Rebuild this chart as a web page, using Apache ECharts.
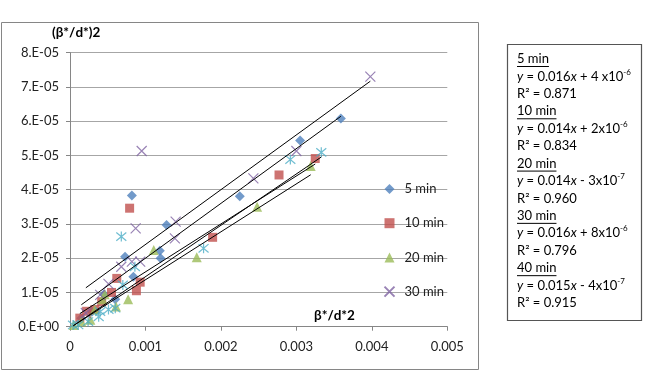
<!DOCTYPE html>
<html>
<head>
<meta charset="utf-8">
<title>β*/d* plot</title>
<script src="https://cdn.jsdelivr.net/npm/echarts@6/dist/echarts.min.js"></script>
<style>
  html, body { margin: 0; padding: 0; background: #fff; }
  #chart { width: 647px; height: 374px; }
</style>
</head>
<body>
<div id="chart"></div>
<script>
// measured points [x, y] per series
const seriesNames = ['5 min', '10 min', '20 min', '30 min', '40 min'];
const pts5 = [[0.00359, 6.08e-5], [0.00305, 5.44e-5], [0.00225, 3.81e-5], [0.00082, 3.83e-5], [0.00128, 2.97e-5],
  [0.00119, 2.22e-5], [0.0012, 2.0e-5], [0.00073, 2.04e-5], [0.00084, 1.46e-5], [0.0006, 0.8e-5],
  [0.00045, 0.95e-5], [0.00029, 0.44e-5], [0.00015, 0.25e-5]];
const pts10 = [[0.00325, 4.91e-5], [0.00277, 4.43e-5], [0.00189, 2.61e-5], [0.00079, 3.46e-5], [0.00062, 1.41e-5],
  [0.00088, 1.05e-5], [0.00093, 1.3e-5], [0.00055, 1.0e-5], [0.00042, 0.73e-5], [0.00033, 0.5e-5],
  [0.00022, 0.45e-5], [0.00013, 0.25e-5]];
const pts20 = [[0.00319, 4.69e-5], [0.00248, 3.5e-5], [0.00168, 2.03e-5], [0.00111, 2.24e-5], [0.00077, 0.8e-5],
  [0.00061, 0.59e-5], [0.00046, 0.95e-5], [0.00043, 0.8e-5], [0.00033, 0.5e-5], [0.00027, 0.2e-5],
  [0.00015, 0.15e-5], [0.00005, 0.05e-5]];
const pts30 = [[0.00398, 7.3e-5], [0.00095, 5.13e-5], [0.003, 5.13e-5], [0.00243, 4.33e-5], [0.0014, 3.07e-5],
  [0.00087, 2.87e-5], [0.00139, 2.58e-5], [0.00082, 1.9e-5], [0.00093, 1.9e-5], [0.00068, 1.75e-5],
  [0.00051, 1.25e-5], [0.0004, 0.93e-5], [0.00021, 0.4e-5]];
const pts40 = [[0.00333, 5.09e-5], [0.00292, 4.88e-5], [0.00177, 2.29e-5], [0.00068, 2.63e-5], [0.00086, 1.75e-5],
  [0.0007, 1.22e-5], [0.0006, 0.54e-5], [0.00051, 0.5e-5], [0.0004, 0.44e-5], [0.00038, 0.29e-5],
  [0.00024, 0.15e-5], [0.00011, 0.05e-5], [0.00004, 0.05e-5]];

// linear trendlines as given in the text box
const slopes = [0.016, 0.014, 0.014, 0.016, 0.015];
const intercepts = [4e-6, 2e-6, -3e-7, 8e-6, -4e-7];
const r2Values = ['0.871', '0.834', '0.960', '0.796', '0.915'];
const eqLines = [
  '{i|y} = 0.016{i|x} + 4 x10{s|-6}',
  '{i|y} = 0.014{i|x} + 2x10{s|-6}',
  '{i|y} = 0.014{i|x} - 3x10{s|-7}',
  '{i|y} = 0.016{i|x} + 8x10{s|-6}',
  '{i|y} = 0.015{i|x} - 4x10{s|-7}'
];

const xTickLabels = ['0', '0.001', '0.002', '0.003', '0.004', '0.005'];
const yTickLabels = ['0.E+00', '1.E-05', '2.E-05', '3.E-05', '4.E-05', '5.E-05', '6.E-05', '7.E-05', '8.E-05'];

const allPts = [pts5, pts10, pts20, pts30, pts40];
const colors = ['#4F81BD', '#C0504D', '#9BBB59', '#8064A2', '#4BACC6'];
const crossPath = 'path://M0,0L10,10M10,0L0,10';
const starPath = 'path://M0,0L10,10M10,0L0,10M5,-1L5,11';
const symbols = ['diamond', 'rect', 'triangle', crossPath, starPath];
const sizes = [10, 9, 10, 10, 10];

const FONT = 'Lato, "Open Sans", sans-serif';
const BOX_FS = 13;

const chart = echarts.init(document.getElementById('chart'));

const scatterSeries = allPts.map((pts, i) => {
  const stroked = i >= 3;
  return {
    name: seriesNames[i],
    type: 'scatter',
    data: pts,
    symbol: symbols[i],
    symbolSize: sizes[i],
    z: 2,
    itemStyle: stroked
      ? { color: 'none', borderColor: colors[i], borderWidth: 1.2 }
      : { color: colors[i] }
  };
});

const trendSeries = allPts.map((pts, i) => {
  const xs = pts.map(p => p[0]);
  const x1 = Math.min(...xs), x2 = Math.max(...xs);
  return {
    name: seriesNames[i] + ' trend',
    type: 'line',
    data: [[x1, slopes[i] * x1 + intercepts[i]], [x2, slopes[i] * x2 + intercepts[i]]],
    symbol: 'none',
    silent: true,
    z: 3,
    lineStyle: { color: '#000', width: 1 }
  };
});

// text box on the right
const ctx = document.createElement('canvas').getContext('2d');
ctx.font = BOX_FS + 'px ' + FONT;
const boxGraphics = [];
const boxLeft = 517, boxTop = 59, step = 17.43;
seriesNames.forEach((name, i) => {
  const yH = boxTop + step * 3 * i;
  boxGraphics.push({
    type: 'text', x: boxLeft, y: yH, silent: true,
    style: { text: name, fill: '#000', fontSize: BOX_FS, fontFamily: FONT, verticalAlign: 'middle' }
  });
  boxGraphics.push({
    type: 'line', silent: true,
    shape: { x1: boxLeft, y1: yH + 7.5, x2: boxLeft + ctx.measureText(name).width, y2: yH + 7.5 },
    style: { stroke: '#000', lineWidth: 1 }
  });
  boxGraphics.push({
    type: 'text', x: boxLeft, y: yH + step, silent: true,
    style: {
      text: eqLines[i], fill: '#000', fontSize: BOX_FS, fontFamily: FONT, verticalAlign: 'middle',
      lineHeight: 17,
      rich: {
        i: { fontStyle: 'italic', fontSize: BOX_FS, fontFamily: FONT, lineHeight: 17 },
        s: { fontSize: 8, fontFamily: FONT, lineHeight: 10, verticalAlign: 'top' }
      }
    }
  });
  boxGraphics.push({
    type: 'text', x: boxLeft, y: yH + step * 2, silent: true,
    style: { text: 'R² = ' + r2Values[i], fill: '#000', fontSize: BOX_FS, fontFamily: FONT, verticalAlign: 'middle' }
  });
});

const option = {
  animation: false,
  textStyle: { fontFamily: FONT },
  grid: { left: 70, top: 52.7, width: 377.3, height: 274 },
  xAxis: {
    type: 'value', min: 0, max: 0.005, interval: 0.001,
    axisLine: { show: true, lineStyle: { color: '#868686' } },
    axisTick: { show: true, length: 4, lineStyle: { color: '#868686' } },
    splitLine: { show: false },
    axisLabel: {
      margin: 14, fontSize: 13, color: '#222', fontFamily: FONT,
      formatter: v => xTickLabels[Math.round(v / 0.001)]
    }
  },
  yAxis: {
    type: 'value', min: 0, max: 8e-5, interval: 1e-5,
    axisLine: { show: true, lineStyle: { color: '#868686' } },
    axisTick: { show: true, length: 4, lineStyle: { color: '#868686' } },
    splitLine: { show: true, lineStyle: { color: '#A6A6A6', width: 1 } },
    axisLabel: {
      margin: 11, fontSize: 13, color: '#222', fontFamily: FONT,
      formatter: v => yTickLabels[Math.round(v / 1e-5)]
    }
  },
  legend: {
    data: seriesNames.slice(0, 4),
    orient: 'vertical',
    left: 377, top: 176,
    itemWidth: 10, itemHeight: 10, itemGap: 18.2,
    textStyle: { fontSize: 13, color: '#222', fontFamily: FONT, lineHeight: 16, padding: [0, 0, 0, 5] }
  },
  graphic: [
    {
      type: 'rect', silent: true, z: -1,
      shape: { x: 1.5, y: 22.5, width: 477, height: 347 },
      style: { fill: 'none', stroke: '#868686', lineWidth: 1 }
    },
    {
      type: 'rect', silent: true,
      shape: { x: 507.5, y: 44.5, width: 134, height: 276 },
      style: { fill: '#fff', stroke: '#555', lineWidth: 1.2 }
    },
    {
      type: 'text', x: 52, y: 33, silent: true,
      style: { text: '(β*/d*)2', fill: '#000', fontSize: 13.5, fontWeight: 'bold', fontFamily: FONT, verticalAlign: 'middle' }
    },
    {
      type: 'text', x: 314, y: 316, silent: true,
      style: { text: 'β*/d*2', fill: '#000', fontSize: 13.5, fontWeight: 'bold', fontFamily: FONT, verticalAlign: 'middle' }
    },
    ...boxGraphics
  ],
  series: [...scatterSeries, ...trendSeries]
};

chart.setOption(option);
</script>
</body>
</html>
